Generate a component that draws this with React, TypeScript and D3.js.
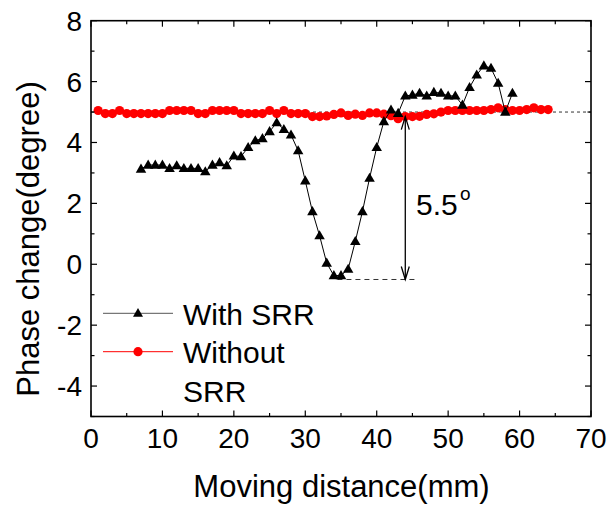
import React from "react";
import * as d3 from "d3";

const withX: number[] = [7,8,9,10,11,12,13,14,15,16,17,18,19,20,21,22,23,24,25,26,27,28,29,30,31,32,33,34,35,36,37,38,39,40,41,42,43,44,45,46,47,48,49,50,51,52,53,54,55,56,57,58,59];
const withY: number[] = [3.13,3.26,3.26,3.26,3.15,3.24,3.15,3.15,3.15,3.04,3.26,3.34,3.24,3.56,3.54,3.84,4.06,4.13,4.36,4.65,4.43,4.25,3.73,2.74,1.73,0.94,0.04,-0.37,-0.37,-0.16,0.75,1.73,2.83,3.84,4.69,5.07,4.96,5.53,5.56,5.62,5.53,5.65,5.62,5.53,5.53,5.23,5.81,6.22,6.52,6.44,5.95,5.0,5.62];
const withoutX: number[] = d3.range(1, 65);
const withoutY: number[] = [5.05,4.95,4.95,5.05,4.95,4.95,4.95,4.95,4.95,4.95,5.05,5.05,5.05,5.05,4.95,4.95,5.05,5.05,5.05,5.05,4.95,4.95,4.95,4.95,5.05,4.95,5.05,4.95,4.95,4.95,4.85,4.85,4.87,4.92,4.97,4.89,4.93,4.89,4.97,4.97,4.93,4.88,4.78,4.85,4.85,4.86,4.92,4.94,5.0,5.05,5.05,5.05,5.05,5.05,5.05,5.08,5.14,5.08,5.05,5.05,5.08,5.14,5.08,5.08];

const xTicks: number[] = [0,10,20,30,40,50,60,70];
const yTicks: number[] = [-4,-2,0,2,4,6,8];
const xMinor: number[] = [5,15,25,35,45,55,65];
const yMinor: number[] = [-5,-3,-1,1,3,5,7];
const legendLabels: string[] = ["With SRR", "Without", "SRR"];
const annotationText = "5.5";
const refLevel = 5;
const minLevel = -0.5;
const arrowX = 44;
const arrowTop = 4.85;
const minLineX: number[] = [34.5, 45.8];

const FONT = "Arial, 'Liberation Sans', Helvetica, sans-serif";

export default function App() {
  const left = 91, right = 591, top = 20.7, bottom = 416.5;
  const x = d3.scaleLinear().domain([0, 70]).range([left, right]);
  const y = d3.scaleLinear().domain([-5, 8]).range([bottom, top]);

  const lineGen = d3.line<[number, number]>().x(d => x(d[0])).y(d => y(d[1]));
  const withPts: [number, number][] = withX.map((v, i) => [v, withY[i]]);
  const withoutPts: [number, number][] = withoutX.map((v, i) => [v, withoutY[i]]);

  const tri = (cx: number, cy: number, s = 10.5) => {
    const h = s * 0.87;
    return `M${cx},${cy - h * 0.6}L${cx + s / 2},${cy + h * 0.4}L${cx - s / 2},${cy + h * 0.4}Z`;
  };

  const major = 6, minor = 3.5;
  const ax = x(arrowX);
  const aTop = y(arrowTop), aBot = y(minLevel);

  return (
    <svg width={611} height={512} style={{ position: "absolute", left: 0, top: 0, background: "#fff" }} fontFamily={FONT}>
      <rect x={0} y={0} width={611} height={512} fill="#fff" />
      {/* reference dotted line */}
      <line x1={x(0)} x2={x(70)} y1={y(refLevel)} y2={y(refLevel)} stroke="#333" strokeWidth={1} strokeDasharray="3,3" />
      {/* min dashed line */}
      <line x1={x(minLineX[0])} x2={x(minLineX[1])} y1={y(minLevel)} y2={y(minLevel)} stroke="#333" strokeWidth={1} strokeDasharray="5,4" />
      {/* series lines */}
      <path d={lineGen(withoutPts) || ""} fill="none" stroke="#ff0000" strokeWidth={1} />
      {withoutPts.map((p, i) => (
        <circle key={"c" + i} cx={x(p[0])} cy={y(p[1])} r={4.6} fill="#ff0000" />
      ))}
      <path d={lineGen(withPts) || ""} fill="none" stroke="#000" strokeWidth={1} />
      {withPts.map((p, i) => (
        <path key={"t" + i} d={tri(x(p[0]), y(p[1]))} fill="#000" />
      ))}
      {/* arrow */}
      <line x1={ax} x2={ax} y1={aTop} y2={aBot} stroke="#000" strokeWidth={1.3} />
      <path d={`M${ax - 4},${aTop + 13}L${ax},${aTop}L${ax + 4},${aTop + 13}`} fill="none" stroke="#000" strokeWidth={1.3} />
      <path d={`M${ax - 4},${aBot - 13}L${ax},${aBot}L${ax + 4},${aBot - 13}`} fill="none" stroke="#000" strokeWidth={1.3} />
      <text x={416} y={215} fontSize={30} fill="#000">{annotationText}</text>
      <text x={460} y={200} fontSize={19} fill="#000">o</text>
      {/* frame */}
      <rect x={left} y={top} width={right - left} height={bottom - top} fill="none" stroke="#000" strokeWidth={1.6} />
      {/* ticks */}
      {xTicks.map(t => (
        <g key={"xt" + t}>
          <line x1={x(t)} x2={x(t)} y1={bottom} y2={bottom - major} stroke="#000" strokeWidth={1.2} />
          <line x1={x(t)} x2={x(t)} y1={top} y2={top + major} stroke="#000" strokeWidth={1.2} />
          <text x={x(t)} y={448} fontSize={28} textAnchor="middle" fill="#000">{t}</text>
        </g>
      ))}
      {xMinor.map(t => (
        <g key={"xm" + t}>
          <line x1={x(t)} x2={x(t)} y1={bottom} y2={bottom - minor} stroke="#000" strokeWidth={1.2} />
          <line x1={x(t)} x2={x(t)} y1={top} y2={top + minor} stroke="#000" strokeWidth={1.2} />
        </g>
      ))}
      {yTicks.map(t => (
        <g key={"yt" + t}>
          <line x1={left} x2={left + major} y1={y(t)} y2={y(t)} stroke="#000" strokeWidth={1.2} />
          <line x1={right} x2={right - major} y1={y(t)} y2={y(t)} stroke="#000" strokeWidth={1.2} />
          <text x={82} y={y(t) + 10} fontSize={28} textAnchor="end" fill="#000">{t}</text>
        </g>
      ))}
      {yMinor.map(t => (
        <g key={"ym" + t}>
          <line x1={left} x2={left + minor} y1={y(t)} y2={y(t)} stroke="#000" strokeWidth={1.2} />
          <line x1={right} x2={right - minor} y1={y(t)} y2={y(t)} stroke="#000" strokeWidth={1.2} />
        </g>
      ))}
      {/* axis titles */}
      <text x={341.5} y={497} fontSize={31} textAnchor="middle" fill="#000">Moving distance(mm)</text>
      <text transform={`translate(39,239) rotate(-90)`} fontSize={31} textAnchor="middle" fill="#000">Phase change(degree)</text>
      {/* legend */}
      <line x1={103} x2={173} y1={313.3} y2={313.3} stroke="#777" strokeWidth={1.3} />
      <path d={tri(138, 313.3, 10)} fill="#000" />
      <text x={183} y={325} fontSize={30} fill="#000">{legendLabels[0]}</text>
      <line x1={103} x2={173} y1={351.7} y2={351.7} stroke="#ff0000" strokeWidth={1} />
      <circle cx={138} cy={351.7} r={4.6} fill="#ff0000" />
      <text x={183} y={363} fontSize={30} fill="#000">{legendLabels[1]}</text>
      <text x={183} y={401.5} fontSize={30} fill="#000">{legendLabels[2]}</text>
    </svg>
  );
}
